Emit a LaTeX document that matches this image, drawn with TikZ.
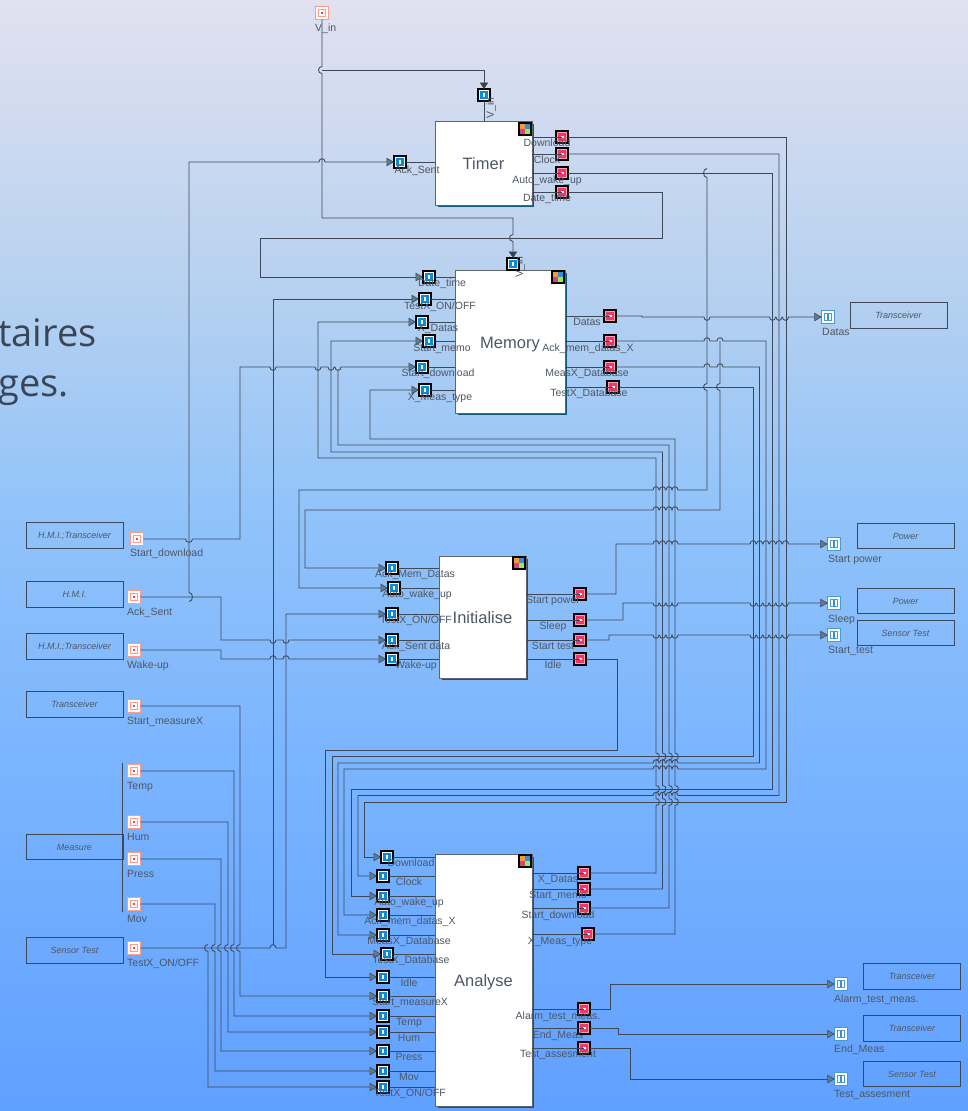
\documentclass[tikz,border=0pt]{standalone}
\usepackage{fontspec}
\setmainfont{Liberation Sans}
\newfontfamily\bigfnt{Open Sans}
\usetikzlibrary{arrows.meta,calc}
\definecolor{wirec}{HTML}{3E4858}
\definecolor{txtc}{HTML}{4E5764}
\definecolor{tric}{HTML}{5C7C92}
\definecolor{tridk}{HTML}{36404C}
\definecolor{shadc}{HTML}{0E5A78}
\definecolor{bigc}{HTML}{3A4556}
\definecolor{iportc}{HTML}{0A8CD8}
\definecolor{oportc}{HTML}{F03868}
\definecolor{srcc}{HTML}{FF9A88}
\definecolor{srcd}{HTML}{F24060}
\definecolor{snkc}{HTML}{4A9AD2}
\definecolor{snkd}{HTML}{2A94E0}
\definecolor{oring}{HTML}{FF9DB6}
\definecolor{icA}{HTML}{F09A40}
\definecolor{icB}{HTML}{3090D8}
\definecolor{icC}{HTML}{E0407A}
\definecolor{icD}{HTML}{90F050}
\definecolor{blkc}{HTML}{60656D}
\pgfdeclareverticalshading{bgshade}{100bp}{
 rgb(0bp)=(0.376,0.627,1); rgb(25bp)=(0.376,0.627,1);
 rgb(40.3bp)=(0.478,0.706,1); rgb(52bp)=(0.569,0.765,0.98);
 rgb(61.5bp)=(0.706,0.816,0.941); rgb(75bp)=(0.882,0.882,0.941); rgb(100bp)=(0.882,0.882,0.941)}
\tikzset{
 wire/.style={draw=wirec,line width=.85pt},
 arr/.style={-{Triangle[length=7.5pt,width=8.5pt,fill=tric,line width=.6pt]}},
 arrdark/.style={-{Triangle[length=6.5pt,width=8.5pt,fill=tridk,line width=.6pt]}},
 portbase/.style={minimum size=12pt,inner sep=0pt,outer sep=0pt,rectangle},
 iportbox/.style={portbase,draw=black,line width=1.25pt,fill=iportc},
 oportbox/.style={portbase,draw=black,line width=1.25pt,fill=oportc},
 srcbox/.style={portbase,minimum size=12.5pt,draw=srcc,line width=1pt,fill=white},
 snkbox/.style={portbase,minimum size=12.5pt,draw=snkc,line width=1pt,fill=white},
 lbl/.style={font=\fontsize{10.5}{12}\selectfont,text=txtc,inner sep=0pt,text height=7.5pt,text depth=0pt},
 lblw/.style={lbl,anchor=west},
 cbox/.style={draw=wirec,line width=.85pt,minimum width=97pt,minimum height=25.5pt,inner sep=0pt,
   font=\fontsize{9}{11}\selectfont\itshape,text=txtc},
 blk/.style={draw=blkc,line width=.9pt,fill=white,inner sep=0pt,outer sep=0pt,text height=13pt,text depth=0pt,
   font=\fontsize{16.5}{18}\selectfont,text=txtc},
}
\newcommand{\iport}[3]{\node[iportbox] (#1) at (#2,#3) {};
 \draw[white,line width=.5pt] (#2-4.4,#3-4.4) rectangle (#2+4.4,#3+4.4);
 \fill[white] (#2-.6,#3-2.4) rectangle (#2+1.4,#3+2.4);}
\newcommand{\oport}[3]{\node[oportbox] (#1) at (#2,#3) {};
 \draw[oring,line width=.5pt] (#2-4.4,#3-4.4) rectangle (#2+4.4,#3+4.4);
 \fill[white] (#2-.8,#3-1.4) rectangle (#2+1.6,#3+1.4);}
\newcommand{\sport}[3]{\node[srcbox] (#1) at (#2,#3) {};
 \draw[srcc,line width=.7pt] (#2-3.8,#3-3.8) rectangle (#2+3.8,#3+3.8);
 \fill[srcd] (#2-1.1,#3-1.1) rectangle (#2+1.1,#3+1.1);}
\newcommand{\kport}[3]{\node[snkbox] (#1) at (#2,#3) {};
 \draw[snkc,line width=.7pt] (#2-3.8,#3-3.8) rectangle (#2+3.8,#3+3.8);
 \fill[snkd] (#2-1.1,#3-3) rectangle (#2+1.1,#3+3);}
\newcommand{\block}[6]{\fill[shadc] (#2+3,#3+3) rectangle (#4+1.6,#5+1.6);
 \node[blk,minimum width={(#4-#2)*1pt},minimum height={(#5-#3)*1pt}] (#1) at ({(#2+#4)/2},{(#3+#5)/2}) {#6};}
\newcommand{\icon}[3]{
 \fill[icA] (#1-6,#2-6) rectangle (#1,#2);
 \fill[icB] (#1,#2-6) rectangle (#1+6,#2);
 \fill[icC] (#1-6,#2) rectangle (#1,#2+6);
 \fill[icD] (#1,#2) rectangle (#1+6,#2+6);
 \node[portbase,draw=black,line width=1.25pt] (#3) at (#1,#2) {};}
% jumps: direction (R,L,D,U) then bulge side
\newcommand{\jRU}[2]{-- (#1-3,#2) .. controls (#1-3,#2-4.4) and (#1+3,#2-4.4) .. (#1+3,#2)}
\newcommand{\jRD}[2]{-- (#1-3,#2) .. controls (#1-3,#2+4.4) and (#1+3,#2+4.4) .. (#1+3,#2)}
\newcommand{\jLU}[2]{-- (#1+3,#2) .. controls (#1+3,#2-4.4) and (#1-3,#2-4.4) .. (#1-3,#2)}
\newcommand{\jDL}[2]{-- (#1,#2-3.5) .. controls (#1-4.6,#2-3.5) and (#1-4.6,#2+3.5) .. (#1,#2+3.5)}
\newcommand{\jUR}[2]{-- (#1,#2+3.5) .. controls (#1+4.6,#2+3.5) and (#1+4.6,#2-3.5) .. (#1,#2-3.5)}
\newcommand{\rowLU}[1]{\jLU{675}{#1}\jLU{669}{#1}\jLU{662.5}{#1}\jLU{656}{#1}}
\newcommand{\rowRU}[1]{\jRU{656}{#1}\jRU{662.5}{#1}\jRU{669}{#1}\jRU{675}{#1}}
\newcommand{\rowRD}[1]{\jRD{656}{#1}\jRD{662.5}{#1}\jRD{669}{#1}\jRD{675}{#1}}
\newcommand{\railRU}[1]{\jRU{753}{#1}\jRU{759.5}{#1}\jRU{766}{#1}\jRU{772.5}{#1}\jRU{779}{#1}\jRU{785.5}{#1}}
\newcommand{\railRD}[1]{\jRD{753}{#1}\jRD{759.5}{#1}\jRD{766}{#1}\jRD{772.5}{#1}\jRD{779}{#1}\jRD{785.5}{#1}}
\newcommand{\stubO}[2]{\draw[wire] (#1.east |- #2) -- (#2.center);}
\newcommand{\stubI}[2]{\draw[wire] (#2.east) -- (#1.west |- #2);}
\begin{document}
\begin{tikzpicture}[x=1pt,y=-1pt]
\useasboundingbox (0,0) rectangle (968,1111);
\shade[shading=bgshade] (0,0) rectangle (968,1111);
\node[anchor=base west,inner sep=0pt,font=\bigfnt\fontsize{38}{40}\selectfont,text=bigc] (bgA) at (-2,346) {taires};
\node[anchor=base west,inner sep=0pt,font=\bigfnt\fontsize{38}{40}\selectfont,text=bigc] (bgB) at (-2,396) {ges.};
% containers
\node[cbox] (cA) at (74.5,535.5) {H.M.I.;Transceiver};
\node[cbox] (cB) at (74.5,594.5) {H.M.I.};
\node[cbox] (cC) at (74.5,646.5) {H.M.I.;Transceiver};
\node[cbox] (cD) at (74.5,704.5) {Transceiver};
\node[cbox] (cE) at (74.5,847) {Measure};
\node[cbox] (cF) at (74.5,950.5) {Sensor Test};
\node[cbox] (cG) at (898.5,315.5) {Transceiver};
\node[cbox] (cH) at (905.5,536) {Power};
\node[cbox] (cI) at (905.5,601) {Power};
\node[cbox] (cJ) at (905.5,633) {Sensor Test};
\node[cbox] (cK) at (912,976.5) {Transceiver};
\node[cbox] (cL) at (912,1028.5) {Transceiver};
\node[cbox] (cM) at (912,1074) {Sensor Test};
\coordinate (barT) at (122.5,763);
\coordinate (barB) at (122.5,912);
\draw[wirec,line width=1.2pt] (barT) -- (barB);
% blocks
\block{Timer}{435}{121}{532}{205}{Timer}
\block{Memory}{455}{270}{565}{413}{Memory}
\block{Init}{439}{556}{526}{678}{Initialise}
\block{Analyse}{435}{854}{532}{1106}{Analyse}
\icon{525}{129}{icT}
\icon{558}{277}{icM}
\icon{519}{563}{icI}
\icon{525}{861}{icN}
% source ports
\sport{sV}{322}{13}
\sport{sDl}{137}{539}
\sport{sAck}{134}{597}
\sport{sWake}{134}{650}
\sport{sMeas}{134}{706}
\sport{sTemp}{134}{771}
\sport{sHum}{134}{822}
\sport{sPress}{134}{859}
\sport{sMov}{134}{904}
\sport{sTest}{134}{948}
% sink ports
\kport{kDatas}{828}{317}
\kport{kPower}{834}{544}
\kport{kSleep}{834}{603}
\kport{kStest}{834}{635}
\kport{kAlarm}{841}{984}
\kport{kEnd}{841}{1034}
\kport{kAss}{841}{1079}
% timer ports
\iport{tV}{484}{95}
\iport{tAck}{400}{162}
\oport{tDown}{562}{137}
\oport{tClock}{562}{154}
\oport{tAuto}{562}{173}
\oport{tDate}{562}{192}
% memory ports
\iport{mV}{513}{264}
\iport{mDate}{429}{277}
\iport{mTest}{425}{299}
\iport{mData}{422}{322}
\iport{mMemo}{429}{341}
\iport{mDl}{422}{367}
\iport{mType}{425}{390}
\oport{mOut}{610}{316}
\oport{mAck}{610}{341}
\oport{mMeas}{610}{367}
\oport{mTdb}{613}{387}
% initialise ports
\iport{iAck}{392}{568}
\iport{iAuto}{394}{588}
\iport{iTest}{392}{614}
\iport{iSent}{392}{640}
\iport{iWake}{392}{659}
\oport{iPower}{580}{594}
\oport{iSleep}{580}{620}
\oport{iStest}{580}{640}
\oport{iIdle}{580}{659}
% analyse ports
\iport{aDown}{387}{857}
\iport{aClock}{383}{876}
\iport{aAuto}{383}{896}
\iport{aAck}{383}{915}
\iport{aMeas}{383}{935}
\iport{aTdb}{387}{954}
\iport{aIdle}{383}{977}
\iport{aStart}{383}{996}
\iport{aTemp}{383}{1016}
\iport{aHum}{383}{1032}
\iport{aPress}{383}{1051}
\iport{aMov}{383}{1071}
\iport{aTest}{383}{1087}
\oport{aData}{584}{873}
\oport{aMemo}{584}{889}
\oport{aDl}{584}{908}
\oport{aType}{588}{934}
\oport{aAlarm}{584}{1009}
\oport{aEnd}{584}{1028}
\oport{aAss}{584}{1048}
% stubs
\draw[wire] (tV.south) -- (Timer.north -| tV);
\draw[wire] (mV.south) -- (Memory.north -| mV);
\stubI{Timer}{tAck}
\stubO{Timer}{tDown}\stubO{Timer}{tClock}\stubO{Timer}{tAuto}\stubO{Timer}{tDate}
\stubI{Memory}{mDate}\stubI{Memory}{mTest}\stubI{Memory}{mData}\stubI{Memory}{mMemo}\stubI{Memory}{mDl}\stubI{Memory}{mType}
\stubO{Memory}{mOut}\stubO{Memory}{mAck}\stubO{Memory}{mMeas}\stubO{Memory}{mTdb}
\stubI{Init}{iAck}\stubI{Init}{iAuto}\stubI{Init}{iTest}\stubI{Init}{iSent}\stubI{Init}{iWake}
\stubO{Init}{iPower}\stubO{Init}{iSleep}\stubO{Init}{iStest}\stubO{Init}{iIdle}
\stubI{Analyse}{aDown}\stubI{Analyse}{aClock}\stubI{Analyse}{aAuto}\stubI{Analyse}{aAck}\stubI{Analyse}{aMeas}\stubI{Analyse}{aTdb}\stubI{Analyse}{aIdle}\stubI{Analyse}{aStart}\stubI{Analyse}{aTemp}\stubI{Analyse}{aHum}\stubI{Analyse}{aPress}\stubI{Analyse}{aMov}\stubI{Analyse}{aTest}
\stubO{Analyse}{aData}\stubO{Analyse}{aMemo}\stubO{Analyse}{aDl}\stubO{Analyse}{aType}\stubO{Analyse}{aAlarm}\stubO{Analyse}{aEnd}\stubO{Analyse}{aAss}
% V_in
\draw[wire,arrdark] (sV.south) \jDL{322}{70} -- (322,218) -- (513,218) \jDL{513}{238} -- (mV.north);
\draw[wire,arrdark] (322,70) -- (484,70) -- (tV.north);
% timer outputs
\draw[wire,arr] (tDate.east) -- (662,192) -- (662,238) -- (260,238) -- (260,277) -- (mDate.west);
\draw[wire,arr] (tDown.east) -- (786,137) -- (786,802) -- (364,802) -- (364,857) -- (aDown.west);
\draw[wire,arr] (tClock.east) -- (779,154) -- (779,795.5) \rowLU{795.5} -- (358,795.5) -- (358,876) -- (aClock.west);
\draw[wire,arr] (tAuto.east) -- (772.5,173) -- (772.5,789) -- (351,789) -- (351,896) -- (aAuto.west);
\draw[wire,arr] (707,168.5) .. controls (702.4,168.5) and (702.4,177.5) .. (707,177.5) \jDL{707}{387} -- (707,490) \rowLU{490} -- (299,490) -- (299,588) -- (iAuto.west);
% memory outputs
\draw[wire,arr] (mOut.east) -- (642,316) -- (642,317) \jRD{707}{317}\jRD{772.5}{317}\jRD{779}{317}\jRD{785.5}{317} -- (kDatas.west);
\draw[wire,arr] (mAck.east) \jRU{707}{341}\jRU{720}{341} -- (766,341) -- (766,769) \rowLU{769} -- (344,769) -- (344,915) -- (aAck.west);
\draw[wire,arr] (720,341) \jDL{720}{387} -- (720,510) \rowLU{510} -- (305,510) -- (305,568) -- (iAck.west);
\draw[wire,arr] (mMeas.east) \jRU{707}{367}\jRU{720}{367} -- (759.5,367) -- (759.5,763) \rowLU{763} -- (338,763) -- (338,935) -- (aMeas.west);
\draw[wire,arr] (mTdb.east) -- (753,387) -- (753,756.5) -- (332,756.5) -- (332,954) -- (aTdb.west);
% sources
\draw[wire,arr] (189,601.5) .. controls (193.6,601.5) and (193.6,592.5) .. (189,592.5) -- (189,162) \jRU{322}{162} -- (tAck.west);
\draw[wire,arr] (sAck.east) -- (221,597) -- (221,640) \jRD{273}{640}\jRD{286}{640} -- (iSent.west);
\draw[wire,arr] (sWake.east) -- (221,650) -- (221,659) \jRU{273}{659}\jRU{286}{659} -- (iWake.west);
\draw[wire,arr] (sDl.east) -- (185.5,539) .. controls (185.5,543.4) and (192.5,543.4) .. (192.5,539) -- (240,539) -- (240,367) \jRD{273}{367}\jRD{318}{367}\jRD{331}{367}\jRD{338}{367} -- (mDl.west);
\draw[wire,arr] (sMeas.east) -- (240,706) \jDL{240}{948} -- (240,996) -- (aStart.west);
\draw[wire,arr] (sTemp.east) -- (234,771) \jDL{234}{948} -- (234,1016) -- (aTemp.west);
\draw[wire,arr] (sHum.east) -- (228,822) \jDL{228}{948} -- (228,1032) -- (aHum.west);
\draw[wire,arr] (sPress.east) -- (221,859) \jDL{221}{948} -- (221,1051) -- (aPress.west);
\draw[wire,arr] (sMov.east) -- (215,904) \jDL{215}{948} -- (215,1071) -- (aMov.west);
\draw[wire,arr] (sTest.east) \jRU{273}{948} -- (286,948) -- (286,614) -- (iTest.west);
\draw[wire,arr] (208,944.5) .. controls (203.4,944.5) and (203.4,951.5) .. (208,951.5) -- (208,1087) -- (aTest.west);
\draw[wire,arr] (273,944.5) -- (273,299) -- (mTest.west);
% analyse feedback
\draw[wire,arr] (aData.east) -- (656,873) \jUR{656}{802}\jUR{656}{789}\jUR{656}{756.5} -- (656,458) -- (318,458) -- (318,322) -- (mData.west);
\draw[wire,arr] (aMemo.east) -- (662.5,889) \jUR{662.5}{802}\jUR{662.5}{789}\jUR{662.5}{756.5} -- (662.5,452) -- (331,452) -- (331,341) -- (mMemo.west);
\draw[wire] (aDl.east) -- (669,908) \jUR{669}{802}\jUR{669}{789}\jUR{669}{756.5} -- (669,445) -- (338,445) -- (338,370.5);
\draw[wire,arr] (aType.east) -- (675,934) \jUR{675}{802}\jUR{675}{789}\jUR{675}{756.5} -- (675,439) -- (370,439) -- (370,390) -- (mType.west);
% initialise outputs
\draw[wire,arr] (iPower.east) -- (616,594) -- (616,544) \rowRU{544} \railRU{544} -- (kPower.west);
\draw[wire,arr] (iSleep.east) -- (623,620) -- (623,603) \rowRD{603} \railRD{603} -- (kSleep.west);
\draw[wire,arr] (iStest.east) -- (609,640) -- (609,635) \rowRD{635} \railRD{635} -- (kStest.west);
\draw[wire,arr] (iIdle.east) -- (617,659) -- (617,750) -- (325,750) -- (325,977) -- (aIdle.west);
% analyse outputs to sinks
\draw[wire,arr] (aAlarm.east) -- (610,1009) -- (610,984) -- (kAlarm.west);
\draw[wire,arr] (aEnd.east) -- (618,1028) -- (618,1034) -- (kEnd.west);
\draw[wire,arr] (aAss.east) -- (630,1048) -- (630,1079) -- (kAss.west);
% labels
\node[lblw] (lV) at (315,28) {V\_in};
\node[lbl,rotate=90] (lTV) at (490,108) {V\_in};
\node[lbl,rotate=90] (lMV) at (519,267) {V\_in};
\node[lbl] (l1) at (417,170) {Ack\_Sent};
\node[lbl] (l2) at (547,143) {Download};
\node[lbl] (l3) at (547,160) {Clock};
\node[lbl] (l4) at (547,180) {Auto\_wake\_up};
\node[lbl] (l5) at (547,198) {Date\_time};
\node[lbl] (l6) at (442,283) {Date\_time};
\node[lbl] (l7) at (440,306) {TestX\_ON/OFF};
\node[lbl] (l8) at (438,328) {X\_Datas};
\node[lbl] (l9) at (442,348) {Start\_memo};
\node[lbl] (l10) at (438,373) {Start\_download};
\node[lbl] (l11) at (440,397) {X\_Meas\_type};
\node[lbl] (l12) at (587,322) {Datas};
\node[lbl] (l13) at (588,348) {Ack\_mem\_datas\_X};
\node[lbl] (l14) at (587,373) {MeasX\_Database};
\node[lbl] (l15) at (589,393) {TestX\_Database};
\node[lblw] (l16) at (130,553) {Start\_download};
\node[lblw] (l17) at (127,612) {Ack\_Sent};
\node[lblw] (l18) at (127,665) {Wake-up};
\node[lblw] (l19) at (127,721) {Start\_measureX};
\node[lblw] (l20) at (127,786) {Temp};
\node[lblw] (l21) at (127,837) {Hum};
\node[lblw] (l22) at (127,874) {Press};
\node[lblw] (l23) at (127,919) {Mov};
\node[lblw] (l24) at (127,963) {TestX\_ON/OFF};
\node[lbl] (l25) at (415,574) {Ack\_Mem\_Datas};
\node[lbl] (l26) at (417,594) {Auto\_wake\_up};
\node[lbl] (l27) at (416,620) {TestX\_ON/OFF};
\node[lbl] (l28) at (416,646) {Ack\_Sent data};
\node[lbl] (l29) at (416,665) {Wake-up};
\node[lbl] (l30) at (553,600) {Start power};
\node[lbl] (l31) at (553,626) {Sleep};
\node[lbl] (l32) at (553,646) {Start test};
\node[lbl] (l33) at (553,665) {Idle};
\node[lbl] (l34) at (411,863) {Download};
\node[lbl] (l35) at (409,882) {Clock};
\node[lbl] (l36) at (409,902) {Auto\_wake\_up};
\node[lbl] (l37) at (410,921) {Ack\_mem\_datas\_X};
\node[lbl] (l38) at (409,941) {MeasX\_Database};
\node[lbl] (l39) at (411,960) {TestX\_Database};
\node[lbl] (l40) at (409,983) {Idle};
\node[lbl] (l41) at (410,1002) {Start\_measureX};
\node[lbl] (l42) at (409,1022) {Temp};
\node[lbl] (l43) at (409,1038) {Hum};
\node[lbl] (l44) at (409,1057) {Press};
\node[lbl] (l45) at (409,1077) {Mov};
\node[lbl] (l46) at (410,1093) {TestX\_ON/OFF};
\node[lbl] (l47) at (558,879) {X\_Datas};
\node[lbl] (l48) at (558,895) {Start\_memo};
\node[lbl] (l49) at (558,915) {Start\_download};
\node[lbl] (l50) at (560,941) {X\_Meas\_type};
\node[lbl] (l51) at (558,1016) {Alarm\_test\_meas.};
\node[lbl] (l52) at (558,1035) {End\_Meas};
\node[lbl] (l53) at (558,1054) {Test\_assesment};
\node[lblw] (l54) at (822,332) {Datas};
\node[lblw] (l55) at (828,559) {Start power};
\node[lblw] (l56) at (828,619) {Sleep};
\node[lblw] (l57) at (828,650) {Start\_test};
\node[lblw] (l58) at (834,999) {Alarm\_test\_meas.};
\node[lblw] (l59) at (834,1049) {End\_Meas};
\node[lblw] (l60) at (834,1094) {Test\_assesment};
\end{tikzpicture}
\end{document}
